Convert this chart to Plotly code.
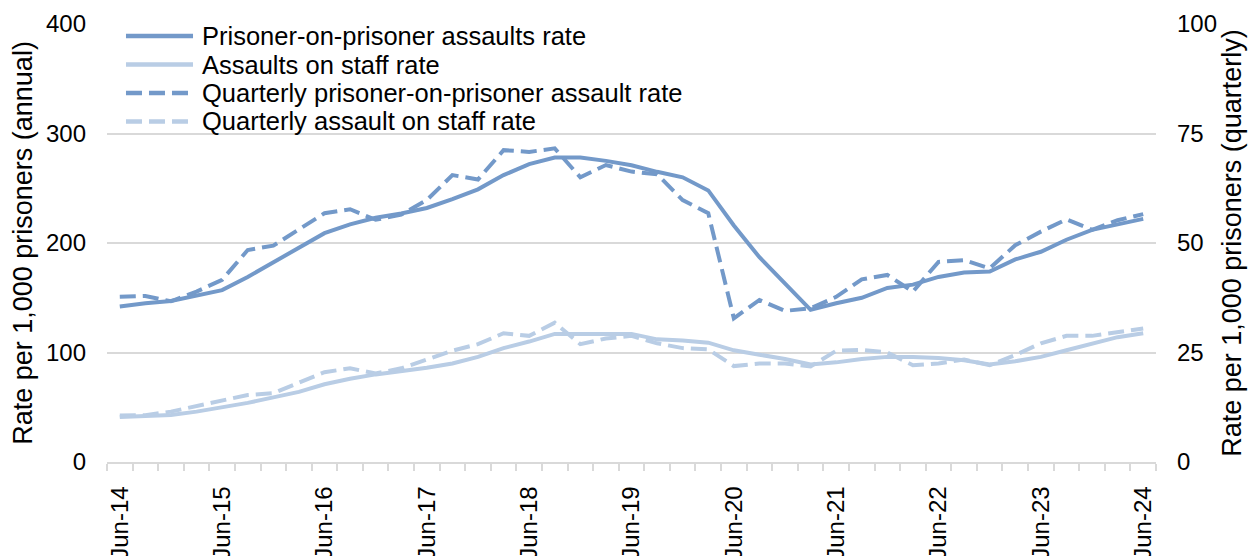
import plotly.graph_objects as go

# ---- data ----
quarters = []
for yr in range(14, 25):
    for m in ["Mar", "Jun", "Sep", "Dec"]:
        quarters.append(f"{m}-{yr}")
quarters = quarters[quarters.index("Jun-14"):quarters.index("Jun-24") + 1]

pop_annual = [142, 145, 147, 152, 157, 169, 182, 195, 209, 217, 223, 227, 232, 240, 249, 262,
              272, 278, 278, 275, 271, 265, 260, 248, 216, 187, 163, 139, 145, 150, 159, 162,
              169, 173, 174, 185, 192, 203, 212, 217, 222]
staff_annual = [41, 42, 43, 46, 50, 54, 59, 64, 71, 76, 80, 83, 86, 90, 96, 104,
                110, 117, 117, 117, 117, 112, 111, 109, 102, 98, 94, 89, 91, 94, 96, 96,
                95, 93, 89, 92, 96, 102, 108, 114, 117.5]
pop_quarterly = [37.7, 37.9, 36.7, 38.9, 41.6, 48.4, 49.4, 53.0, 56.8, 57.7, 55.3, 56.5, 59.8, 65.5, 64.5, 71.2,
                 70.8, 71.6, 65.0, 67.8, 66.3, 65.7, 59.8, 56.8, 32.8, 37.0, 34.5, 35.1, 37.7, 41.7, 42.7, 38.9,
                 45.7, 46.1, 44.2, 49.5, 52.6, 55.4, 53.0, 55.2, 56.6]
staff_quarterly = [10.6, 10.7, 11.5, 12.8, 14.2, 15.3, 15.7, 18.0, 20.5, 21.4, 20.2, 21.4, 23.4, 25.4, 26.9, 29.4,
                   28.8, 31.8, 26.9, 28.2, 28.8, 27.1, 26.0, 25.7, 21.9, 22.5, 22.5, 21.8, 25.4, 25.6, 25.0, 22.1,
                   22.5, 23.4, 22.1, 24.4, 27.1, 28.8, 28.8, 29.7, 30.5]

series_names = ["Prisoner-on-prisoner assaults rate", "Assaults on staff rate",
                "Quarterly prisoner-on-prisoner assault rate", "Quarterly assault on staff rate"]

# ---- style ----
DARK = "#7399C9"
LIGHT = "#B9CDE5"
GRID = "#D9D9D9"
FONT = "Liberation Sans, Arial, sans-serif"
DASH = "16px,7px"
LW = 4

x = list(range(len(quarters)))
jun_idx = [i for i, q in enumerate(quarters) if q.startswith("Jun")]

fig = go.Figure()
fig.add_trace(go.Scatter(x=x, y=pop_annual, mode="lines", name=series_names[0],
                         line=dict(color=DARK, width=LW), yaxis="y"))
fig.add_trace(go.Scatter(x=x, y=staff_annual, mode="lines", name=series_names[1],
                         line=dict(color=LIGHT, width=LW), yaxis="y"))
fig.add_trace(go.Scatter(x=x, y=pop_quarterly, mode="lines", name=series_names[2],
                         line=dict(color=DARK, width=LW, dash=DASH), yaxis="y2"))
fig.add_trace(go.Scatter(x=x, y=staff_quarterly, mode="lines", name=series_names[3],
                         line=dict(color=LIGHT, width=LW, dash=DASH), yaxis="y2"))

# custom legend (tight rows like the original)
leg_y = [0.9726, 0.9075, 0.8425, 0.7774]
leg_styles = [(DARK, "solid"), (LIGHT, "solid"), (DARK, DASH), (LIGHT, DASH)]
for name, yy, (col, dash) in zip(series_names, leg_y, leg_styles):
    fig.add_shape(type="line", xref="paper", yref="paper", x0=0.0181, x1=0.082, y0=yy, y1=yy,
                  line=dict(color=col, width=4.5, dash=dash))
    fig.add_annotation(text=name, xref="paper", yref="paper", x=0.0887, y=yy,
                       xanchor="left", yanchor="middle", showarrow=False,
                       font=dict(size=25.5, color="#000000", family=FONT))

fig.update_layout(
    width=1257, height=556,
    margin=dict(l=99, r=109, t=16, b=102, autoexpand=False),
    paper_bgcolor="white", plot_bgcolor="white",
    font=dict(family=FONT, size=24, color="#000000"),
    showlegend=False,
    xaxis=dict(
        range=[-0.5, len(quarters) - 0.5], automargin=False,
        tickmode="array", tickvals=jun_idx, ticktext=[quarters[i] for i in jun_idx],
        tickangle=-90, ticks="", showgrid=False, zeroline=False,
        showline=True, linecolor=GRID, linewidth=1.5,
        tickfont=dict(size=24), ticklabelstandoff=13,
        minor=dict(ticks="outside", ticklen=7, tickcolor=GRID, tickwidth=1.5,
                   tickmode="array", tickvals=[i - 0.5 for i in range(len(quarters) + 1)],
                   showgrid=False),
    ),
    yaxis=dict(
        range=[0, 400], tickmode="linear", tick0=0, dtick=100, automargin=False,
        showgrid=True, gridcolor=GRID, gridwidth=1.5, zeroline=False, showline=False,
        ticks="", ticklabelstandoff=20,
        title=dict(text="Rate per 1,000 prisoners (annual)", font=dict(size=27), standoff=5),
    ),
    yaxis2=dict(
        range=[0, 100], tickmode="linear", tick0=0, dtick=25, overlaying="y", side="right",
        automargin=False,
        showgrid=False, zeroline=False, showline=False, ticks="", ticklabelstandoff=20,
        title=dict(text="Rate per 1,000 prisoners (quarterly)", font=dict(size=27), standoff=2),
    ),
)

fig.write_html("out.html")
